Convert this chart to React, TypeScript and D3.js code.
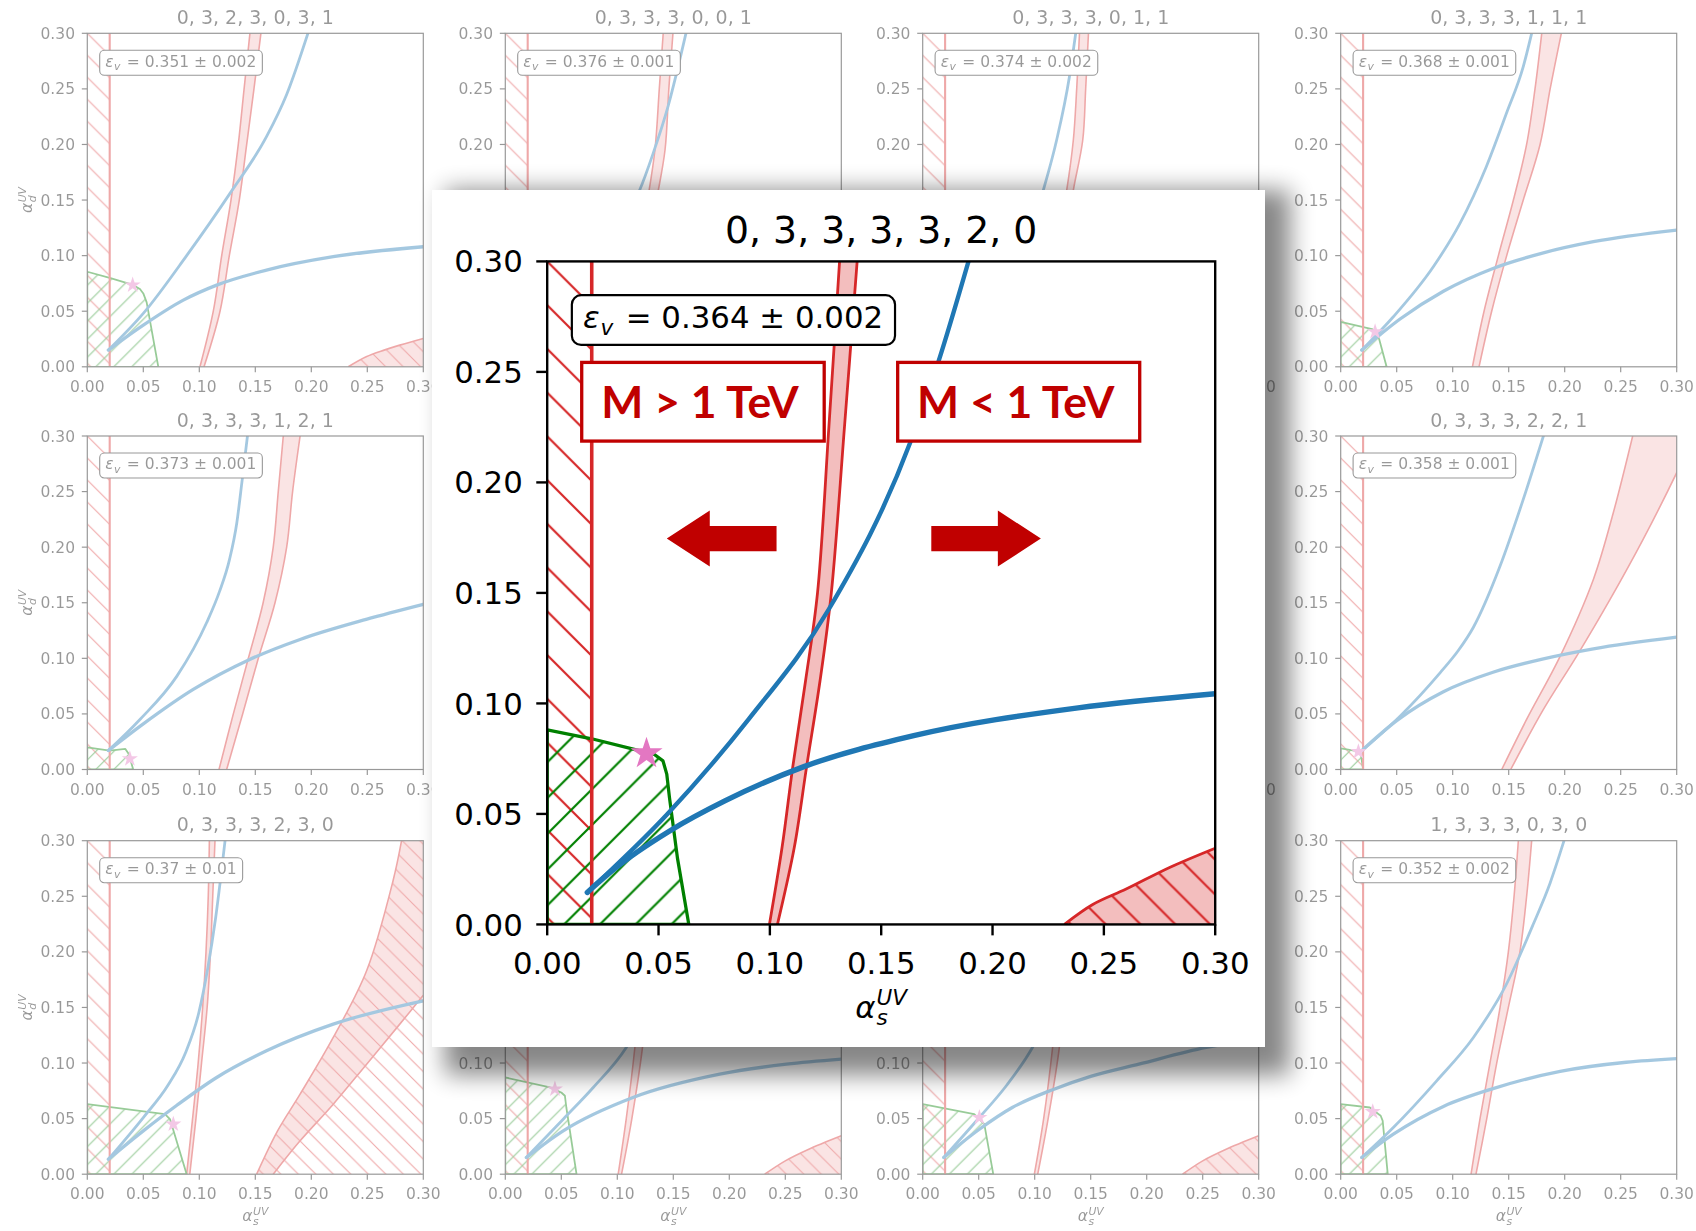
import React, { useEffect, useRef } from "react";
import * as d3 from "d3";

type Pt = [number, number];

// ---------------- data ----------------
const TICK_VALUES = [0, 0.05, 0.1, 0.15, 0.2, 0.25, 0.3];
const TICK_LABELS = ["0.00", "0.05", "0.10", "0.15", "0.20", "0.25", "0.30"];
const EXCLUDED_BAND: Pt = [0, 0.02];

const PANEL_TITLES = [
  "0, 3, 2, 3, 0, 3, 1", "0, 3, 3, 3, 0, 0, 1", "0, 3, 3, 3, 0, 1, 1", "0, 3, 3, 3, 1, 1, 1",
  "0, 3, 3, 3, 1, 2, 1", "", "", "0, 3, 3, 3, 2, 2, 1",
  "0, 3, 3, 3, 2, 3, 0", "", "", "1, 3, 3, 3, 0, 3, 0",
];
const PANEL_EPS = [
  "0.351 ± 0.002", "0.376 ± 0.001", "0.374 ± 0.002", "0.368 ± 0.001",
  "0.373 ± 0.001", "", "", "0.358 ± 0.001",
  "0.37 ± 0.01", "", "", "0.352 ± 0.002",
];

const STEEP_CURVES: (Pt[] | null)[] = [
  [[0.0188, 0.015], [0.05, 0.048], [0.0887, 0.1], [0.1274, 0.156], [0.16, 0.207], [0.178, 0.245], [0.197, 0.3]],
  [[0.0188, 0.015], [0.05, 0.05], [0.08, 0.09], [0.105, 0.13], [0.12, 0.159], [0.132, 0.192], [0.1455, 0.235], [0.1613, 0.3]],
  [[0.0188, 0.015], [0.05, 0.05], [0.08, 0.088], [0.095, 0.118], [0.1077, 0.159], [0.1196, 0.204], [0.131, 0.261], [0.1366, 0.3]],
  [[0.0188, 0.015], [0.047, 0.045], [0.0827, 0.09], [0.1065, 0.129], [0.13, 0.18], [0.148, 0.228], [0.163, 0.27], [0.1705, 0.3]],
  [[0.0188, 0.017], [0.047, 0.045], [0.08, 0.084], [0.1065, 0.132], [0.118, 0.16], [0.127, 0.189], [0.1335, 0.222], [0.138, 0.258], [0.143, 0.3]],
  null,
  null,
  [[0.0188, 0.017], [0.053, 0.048], [0.0887, 0.087], [0.105, 0.107], [0.1185, 0.128], [0.1423, 0.183], [0.163, 0.243], [0.181, 0.3]],
  [[0.0188, 0.0135], [0.05, 0.051], [0.072, 0.08], [0.088, 0.11], [0.0995, 0.145], [0.1075, 0.185], [0.1145, 0.23], [0.1195, 0.27], [0.123, 0.3]],
  [[0.0188, 0.015], [0.0517, 0.0495], [0.0785, 0.078], [0.108, 0.114], [0.13, 0.155], [0.15, 0.2], [0.165, 0.245], [0.177, 0.3]],
  [[0.0188, 0.015], [0.0506, 0.051], [0.075, 0.08], [0.098, 0.114], [0.12, 0.16], [0.14, 0.22], [0.155, 0.3]],
  [[0.0188, 0.015], [0.047, 0.042], [0.0857, 0.084], [0.1185, 0.123], [0.148, 0.171], [0.172, 0.225], [0.187, 0.262], [0.1994, 0.3]],
];

const FLAT_CURVES: (Pt[] | null)[] = [
  [[0.0188, 0.015], [0.05, 0.0375], [0.0857, 0.06], [0.1155, 0.0735], [0.16, 0.087], [0.2196, 0.099], [0.3, 0.108]],
  [[0.0188, 0.015], [0.05, 0.04], [0.1, 0.068], [0.15, 0.085], [0.2, 0.097], [0.3, 0.11]],
  [[0.0188, 0.015], [0.05, 0.042], [0.1, 0.07], [0.15, 0.087], [0.2, 0.099], [0.3, 0.112]],
  [[0.0188, 0.015], [0.053, 0.043], [0.0917, 0.068], [0.136, 0.0885], [0.181, 0.1025], [0.2256, 0.1125], [0.3, 0.123]],
  [[0.0188, 0.017], [0.05, 0.041], [0.0946, 0.072], [0.145, 0.099], [0.19, 0.117], [0.249, 0.135], [0.3, 0.1485]],
  null,
  null,
  [[0.0188, 0.017], [0.05, 0.044], [0.0917, 0.07], [0.136, 0.0875], [0.181, 0.0995], [0.2256, 0.1085], [0.3, 0.119]],
  [[0.0188, 0.0135], [0.05, 0.039], [0.08, 0.062], [0.1155, 0.087], [0.16, 0.111], [0.2196, 0.135], [0.3, 0.156]],
  [[0.0188, 0.015], [0.0517, 0.039], [0.114, 0.069], [0.1915, 0.09], [0.251, 0.099], [0.3, 0.1036]],
  [[0.0188, 0.015], [0.05, 0.04], [0.08, 0.06], [0.116, 0.076], [0.15, 0.088], [0.193, 0.099], [0.253, 0.114], [0.3, 0.122]],
  [[0.0188, 0.015], [0.047, 0.036], [0.0917, 0.061], [0.136, 0.077], [0.196, 0.0925], [0.255, 0.1007], [0.3, 0.104]],
];

const BAND_LEFT: (Pt[] | null)[] = [
  [[0.1006, 0], [0.1125, 0.05], [0.12, 0.1], [0.1283, 0.15], [0.1348, 0.2], [0.14, 0.25], [0.1452, 0.3]],
  [[0.098, 0], [0.11, 0.05], [0.118, 0.1], [0.127, 0.15], [0.1336, 0.195], [0.1375, 0.25], [0.141, 0.3]],
  [[0.1, 0], [0.11, 0.05], [0.118, 0.1], [0.1286, 0.159], [0.1345, 0.204], [0.1375, 0.25], [0.14, 0.3]],
  [[0.1176, 0], [0.128, 0.05], [0.1408, 0.1], [0.1542, 0.15], [0.166, 0.2], [0.1735, 0.25], [0.1795, 0.3]],
  [[0.1176, 0], [0.1304, 0.05], [0.1438, 0.1], [0.157, 0.15], [0.166, 0.2], [0.1705, 0.25], [0.175, 0.3]],
  null,
  null,
  [[0.1438, 0], [0.166, 0.045], [0.196, 0.102], [0.2256, 0.171], [0.2434, 0.231], [0.2607, 0.3]],
  [[0.0887, 0], [0.094, 0.05], [0.099, 0.1], [0.103, 0.15], [0.106, 0.2], [0.108, 0.25], [0.109, 0.3]],
  [[0.1008, 0], [0.108, 0.05], [0.1157, 0.114], [0.123, 0.2], [0.129, 0.3]],
  [[0.0997, 0], [0.108, 0.05], [0.116, 0.114], [0.124, 0.2], [0.13, 0.3]],
  [[0.1164, 0], [0.1244, 0.05], [0.1333, 0.1], [0.1423, 0.15], [0.1497, 0.2], [0.1548, 0.25], [0.1586, 0.3]],
];

const BAND_RIGHT: (Pt[] | null)[] = [
  [[0.1042, 0], [0.1185, 0.05], [0.1268, 0.1], [0.1357, 0.15], [0.1423, 0.2], [0.1488, 0.25], [0.155, 0.3]],
  [[0.102, 0], [0.116, 0.05], [0.126, 0.1], [0.135, 0.15], [0.1426, 0.195], [0.146, 0.25], [0.1497, 0.3]],
  [[0.104, 0], [0.116, 0.05], [0.125, 0.1], [0.1345, 0.159], [0.1429, 0.204], [0.1455, 0.25], [0.148, 0.3]],
  [[0.1235, 0], [0.1348, 0.05], [0.1482, 0.1], [0.163, 0.15], [0.178, 0.2], [0.187, 0.25], [0.197, 0.3]],
  [[0.1244, 0], [0.1387, 0.05], [0.1527, 0.1], [0.1676, 0.15], [0.178, 0.2], [0.1833, 0.25], [0.19, 0.3]],
  null,
  null,
  [[0.1518, 0], [0.181, 0.054], [0.2107, 0.102], [0.2405, 0.153], [0.27, 0.207], [0.3, 0.267], [0.315, 0.3]],
  [[0.0915, 0], [0.097, 0.05], [0.102, 0.1], [0.107, 0.15], [0.11, 0.2], [0.112, 0.25], [0.114, 0.3]],
  [[0.1038, 0], [0.113, 0.05], [0.1225, 0.114], [0.131, 0.2], [0.137, 0.3]],
  [[0.1027, 0], [0.112, 0.05], [0.122, 0.114], [0.13, 0.2], [0.137, 0.3]],
  [[0.1208, 0], [0.1304, 0.05], [0.1393, 0.1], [0.1497, 0.15], [0.16, 0.2], [0.166, 0.25], [0.1705, 0.3]],
];

const GREEN_REGIONS: (Pt[] | null)[] = [
  [[0, 0.0855], [0.02, 0.08], [0.04, 0.074], [0.047, 0.07], [0.05, 0.066], [0.053, 0.058], [0.0634, 0]],
  [[0, 0.085], [0.04, 0.076], [0.05, 0.07], [0.053, 0.06], [0.062, 0]],
  [[0, 0.065], [0.045, 0.056], [0.05, 0.05], [0.063, 0]],
  [[0, 0.0405], [0.028, 0.034], [0.033, 0.03], [0.041, 0]],
  [[0, 0.02], [0.02, 0.017], [0.034, 0.0185], [0.037, 0.014], [0.041, 0]],
  null,
  null,
  [[0, 0.019], [0.012, 0.017], [0.018, 0.014], [0.02, 0]],
  [[0, 0.063], [0.0693, 0.054], [0.0738, 0.0496], [0.0887, 0]],
  [[0, 0.087], [0.04, 0.078], [0.05, 0.0735], [0.0532, 0.0706], [0.0545, 0.06], [0.0636, 0]],
  [[0, 0.063], [0.046, 0.054], [0.055, 0.045], [0.063, 0]],
  [[0, 0.063], [0.026, 0.06], [0.0357, 0.0526], [0.0375, 0.048], [0.042, 0]],
];

const STARS: (Pt | null)[] = [
  [0.0405, 0.0735], [0.044, 0.075], [0.05, 0.052], [0.0307, 0.0315],
  [0.038, 0.0096], null, null, [0.0158, 0.016],
  [0.0768, 0.045], [0.0443, 0.0766], [0.0506, 0.051], [0.0286, 0.0562],
];

const RIGHT_OUTER: (Pt[] | null)[] = [
  [[0.233, 0], [0.249, 0.009], [0.265, 0.015], [0.279, 0.0195], [0.3, 0.0255]],
  null, null, null, null, null, null, null,
  [[0.1512, 0], [0.1699, 0.039], [0.19, 0.072], [0.2196, 0.123], [0.2494, 0.183], [0.273, 0.264], [0.2806, 0.3]],
  [[0.2316, 0], [0.25, 0.012], [0.27, 0.022], [0.3, 0.0345]],
  [[0.232, 0], [0.25, 0.012], [0.27, 0.022], [0.3, 0.0345]],
  null,
];
const RIGHT_INNER: (Pt[] | null)[] = [
  null, null, null, null, null, null, null, null,
  [[0.166, 0], [0.19, 0.03], [0.2196, 0.063], [0.2494, 0.099], [0.279, 0.135], [0.3, 0.161]],
  null, null, null,
];

// enlarged panel
const BIG_TITLE = "0, 3, 3, 3, 3, 2, 0";
const BIG_EPS = "0.364 ± 0.002";
const BIG_STEEP: Pt[] = [[0.018, 0.0145], [0.054, 0.05], [0.0906, 0.093], [0.1264, 0.1425], [0.1633, 0.2187], [0.1756, 0.2543], [0.1892, 0.3]];
const BIG_FLAT: Pt[] = [[0.018, 0.0145], [0.03, 0.025], [0.055, 0.0423], [0.08, 0.056], [0.1153, 0.0714], [0.1646, 0.0854], [0.2384, 0.098], [0.3, 0.1044]];
const BIG_BAND_LEFT: Pt[] = [[0.0998, 0], [0.1055, 0.035], [0.1103, 0.0714], [0.116, 0.11], [0.1214, 0.15], [0.1265, 0.225], [0.1313, 0.3]];
const BIG_BAND_RIGHT: Pt[] = [[0.1034, 0], [0.111, 0.035], [0.1165, 0.0714], [0.1225, 0.11], [0.1276, 0.15], [0.1335, 0.225], [0.1392, 0.3]];
const BIG_GREEN: Pt[] = [[0, 0.088], [0.02, 0.084], [0.04, 0.079], [0.048, 0.077], [0.052, 0.074], [0.0537, 0.068], [0.0549, 0.0575], [0.0585, 0.03], [0.0636, 0]];
const BIG_STAR: Pt = [0.0446, 0.0773];
const BIG_RIGHT_OUTER: Pt[] = [[0.2323, 0], [0.245, 0.009], [0.26, 0.016], [0.28, 0.026], [0.3, 0.0345]];

// annotations on the enlarged panel (in its data coordinates)
const ANNOT_LABELS = ["M > 1 TeV", "M < 1 TeV"];
const ANNOT_BOX_X: Pt[] = [[0.0155, 0.1244], [0.1574, 0.2661]];
const ANNOT_BOX_Y: Pt = [0.2187, 0.2543];
const ARROW_X: Pt[] = [[0.103, 0.0537], [0.1725, 0.2217]]; // [tail, tip]
const ARROW_Y = 0.1746;

// ---------------- layout / style ----------------
const COL_X = [87.3, 505.3, 922.7, 1340.7];
const ROW_Y = [33.3, 436, 840.7];
const AW = 336;
const AH = 333.5;
const BIG_X = 547.2;
const BIG_Y = 261.4;
const BIG_K = 668 / 336;
const RED = "#d62728";
const BLUE = "#1f77b4";
const GREEN = "#008000";
const PINK = "#e377c2";
const DARK_RED = "#c00000";
const FS = 15.5;

type Spec = {
  title: string; eps: string; steep: Pt[] | null; flat: Pt[] | null;
  bandL: Pt[] | null; bandR: Pt[] | null; green: Pt[] | null; star: Pt | null;
  outer: Pt[] | null; inner: Pt[] | null;
};

function makeHatch(defs: any, id: string, dir: "back" | "fwd", s: number, color: string, w: number) {
  const p = defs.append("pattern").attr("id", id).attr("patternUnits", "userSpaceOnUse")
    .attr("width", s).attr("height", s);
  const d = dir === "back"
    ? `M0,0L${s},${s}M${-s * 0.25},${s * 0.75}L${s * 0.25},${s * 1.25}M${s * 0.75},${-s * 0.25}L${s * 1.25},${s * 0.25}`
    : `M0,${s}L${s},0M${-s * 0.25},${s * 0.25}L${s * 0.25},${-s * 0.25}M${s * 0.75},${s * 1.25}L${s * 1.25},${s * 0.75}`;
  p.append("path").attr("d", d).attr("stroke", color).attr("stroke-width", w).attr("fill", "none");
}

function mathLabel(parent: any, base: string, sub: string, sup: string, fs: number) {
  const g = parent.append("g");
  const t1 = g.append("text").attr("font-style", "italic").attr("font-size", fs).text(base);
  const w1 = (t1.node() as SVGTextElement).getComputedTextLength();
  const ts = g.append("text").attr("x", w1 + 0.5).attr("y", fs * 0.24).attr("font-style", "italic")
    .attr("font-size", fs * 0.7).text(sub);
  const tu = g.append("text").attr("x", w1 + 0.5).attr("y", -fs * 0.42).attr("font-style", "italic")
    .attr("font-size", fs * 0.7).text(sup);
  const w = w1 + 0.5 + Math.max(
    (ts.node() as SVGTextElement).getComputedTextLength(),
    (tu.node() as SVGTextElement).getComputedTextLength()
  );
  g.selectAll("text").attr("transform", `translate(${-w / 2},0)`);
  return g;
}

function drawPanel(root: any, spec: Spec, tx: number, ty: number, k: number, faded: boolean,
  yLabel: boolean, xLabel: boolean, id: string) {
  const g = root.append("g").attr("transform", `translate(${tx},${ty}) scale(${k})`)
    .attr("opacity", faded ? 0.4 : 1);
  const lwBlue = faded ? 2.8 : 2.2;
  const lwFlat = faded ? 3.3 : 2.7;
  const lwRed = faded ? 1.6 : 1.4;
  const lwVert = faded ? 2.1 : 1.8;
  const lwGreen = faded ? 1.8 : 1.65;
  const x = d3.scaleLinear().domain([0, 0.3]).range([0, AW]);
  const y = d3.scaleLinear().domain([0, 0.3]).range([AH, 0]);
  const clipId = "clip-" + id;
  g.append("clipPath").attr("id", clipId).append("rect").attr("width", AW).attr("height", AH);
  const c = g.append("g").attr("clip-path", `url(#${clipId})`);
  const curve = d3.line<Pt>().x((d) => x(d[0])).y((d) => y(d[1])).curve(d3.curveCatmullRom.alpha(0.5));
  const mono = d3.line<Pt>().x((d) => x(d[0])).y((d) => y(d[1])).curve(d3.curveMonotoneX);
  const lin = d3.line<Pt>().x((d) => x(d[0])).y((d) => y(d[1]));

  // excluded band on the left
  c.append("rect").attr("x", x(EXCLUDED_BAND[0])).attr("y", 0)
    .attr("width", x(EXCLUDED_BAND[1]) - x(EXCLUDED_BAND[0])).attr("height", AH).attr("fill", "url(#hBand)");

  // lower-right region
  if (spec.outer) {
    const last = spec.outer[spec.outer.length - 1];
    const hatchD = curve(spec.outer) + `L${x(0.3)},${y(last[1])}L${x(0.3)},${y(0)}Z`;
    const fillD = spec.inner
      ? curve(spec.outer) + `L${x(0.3)},${y(last[1])}` + (curve([...spec.inner].reverse()) as string).replace(/^M/, "L") + "Z"
      : hatchD;
    c.append("path").attr("d", fillD).attr("fill", RED).attr("fill-opacity", 0.3);
    c.append("path").attr("d", hatchD).attr("fill", "url(#hWide)");
    c.append("path").attr("d", curve(spec.outer)).attr("fill", "none").attr("stroke", RED).attr("stroke-width", lwRed);
    if (spec.inner) {
      c.append("path").attr("d", curve(spec.inner)).attr("fill", "none").attr("stroke", RED).attr("stroke-width", lwRed);
    }
  }

  // narrow red band
  if (spec.bandL && spec.bandR) {
    const d = curve(spec.bandL) + (curve([...spec.bandR].reverse()) as string).replace(/^M/, "L") + "Z";
    c.append("path").attr("d", d).attr("fill", RED).attr("fill-opacity", 0.3);
    c.append("path").attr("d", curve(spec.bandL)).attr("fill", "none").attr("stroke", RED).attr("stroke-width", lwRed);
    c.append("path").attr("d", curve(spec.bandR)).attr("fill", "none").attr("stroke", RED).attr("stroke-width", lwRed);
  }

  // green allowed region
  if (spec.green) {
    c.append("path").attr("d", lin([[0, 0], ...spec.green]) + "Z").attr("fill", "url(#hGreen)")
      .attr("stroke", GREEN).attr("stroke-width", lwGreen).attr("stroke-linejoin", "round");
  }

  // red line at band edge
  c.append("line").attr("x1", x(EXCLUDED_BAND[1])).attr("x2", x(EXCLUDED_BAND[1]))
    .attr("y1", 0).attr("y2", AH).attr("stroke", RED).attr("stroke-width", lwVert);

  // blue curves
  if (spec.steep) {
    c.append("path").attr("d", mono(spec.steep)).attr("fill", "none").attr("stroke", BLUE)
      .attr("stroke-width", lwBlue).attr("stroke-linecap", "round");
  }
  if (spec.flat) {
    c.append("path").attr("d", mono(spec.flat)).attr("fill", "none").attr("stroke", BLUE)
      .attr("stroke-width", lwFlat).attr("stroke-linecap", "round");
  }

  // star
  if (spec.star) {
    g.append("path").attr("d", d3.symbol().type(d3.symbolStar).size(81)())
      .attr("transform", `translate(${x(spec.star[0])},${y(spec.star[1])})`).attr("fill", PINK);
  }

  // spines
  g.append("rect").attr("width", AW).attr("height", AH).attr("fill", "none")
    .attr("stroke", "#000").attr("stroke-width", 1.2);

  // ticks
  TICK_VALUES.forEach((v, i) => {
    g.append("line").attr("x1", x(v)).attr("x2", x(v)).attr("y1", AH).attr("y2", AH + 5.5)
      .attr("stroke", "#000").attr("stroke-width", 1.2);
    g.append("line").attr("x1", 0).attr("x2", -5.5).attr("y1", y(v)).attr("y2", y(v))
      .attr("stroke", "#000").attr("stroke-width", 1.2);
    g.append("text").attr("x", x(v)).attr("y", AH + 25).attr("text-anchor", "middle")
      .attr("font-size", FS).attr("fill", "#000").text(TICK_LABELS[i]);
    g.append("text").attr("x", -12.3).attr("y", y(v) + FS * 0.36).attr("text-anchor", "end")
      .attr("font-size", FS).attr("fill", "#000").text(TICK_LABELS[i]);
  });

  // title
  if (spec.title) {
    g.append("text").attr("x", AW / 2).attr("y", -9.5).attr("text-anchor", "middle")
      .attr("font-size", 19).attr("fill", "#000").text(spec.title);
  }

  // epsilon box
  if (spec.eps) {
    const bg = g.append("g");
    const t = bg.append("text").attr("x", 18).attr("y", 33.4).attr("font-size", FS).attr("fill", "#000");
    t.append("tspan").attr("font-style", "italic").text("ε");
    t.append("tspan").attr("font-style", "italic").attr("font-size", FS * 0.7).attr("dy", 3.5).attr("dx", 0.4).text("v");
    t.append("tspan").attr("dy", -3.5).attr("dx", 1.4).text(" = " + spec.eps);
    const bb = (t.node() as SVGTextElement).getBBox();
    bg.insert("rect", "text").attr("x", bb.x - 5.6).attr("y", 17).attr("width", bb.width + 11.6)
      .attr("height", 25).attr("rx", 4.65).attr("fill", "#fff").attr("stroke", "#000").attr("stroke-width", 1.1);
  }

  if (xLabel) {
    const lg = mathLabel(g, "α", "s", "UV", FS);
    lg.attr("transform", `translate(${AW / 2},${AH + 47})`);
  }
  if (yLabel) {
    const lg = mathLabel(g, "α", "d", "UV", FS);
    lg.attr("transform", `translate(-55,${AH / 2}) rotate(-90)`);
  }
}

export default function App() {
  const ref = useRef<SVGSVGElement>(null);
  useEffect(() => {
    const svg = d3.select(ref.current as SVGSVGElement);
    svg.selectAll("*").remove();
    const defs = svg.append("defs");
    makeHatch(defs, "hBand", "back", 22, RED, 1.1);
    makeHatch(defs, "hWide", "back", 17.5, RED, 1.1);
    makeHatch(defs, "hGreen", "fwd", 18, GREEN, 1.1);
    const filt = defs.append("filter").attr("id", "shadowBlur").attr("x", "-20%").attr("y", "-20%")
      .attr("width", "140%").attr("height", "140%");
    filt.append("feGaussianBlur").attr("stdDeviation", 12);

    svg.append("rect").attr("width", 1696).attr("height", 1231).attr("fill", "#fff");

    for (let i = 0; i < 12; i++) {
      const r = Math.floor(i / 4);
      const col = i % 4;
      const spec: Spec = {
        title: PANEL_TITLES[i], eps: PANEL_EPS[i], steep: STEEP_CURVES[i], flat: FLAT_CURVES[i],
        bandL: BAND_LEFT[i], bandR: BAND_RIGHT[i], green: GREEN_REGIONS[i], star: STARS[i],
        outer: RIGHT_OUTER[i], inner: RIGHT_INNER[i],
      };
      drawPanel(svg, spec, COL_X[col], ROW_Y[r], 1, true, col === 0, r === 2, "p" + i);
    }

    // shadow + white card
    svg.append("rect").attr("x", 445).attr("y", 190).attr("width", 845).attr("height", 885)
      .attr("fill", "#000").attr("opacity", 0.47).attr("filter", "url(#shadowBlur)");
    svg.append("rect").attr("x", 432).attr("y", 190).attr("width", 833).attr("height", 857).attr("fill", "#fff");

    const bigSpec: Spec = {
      title: BIG_TITLE, eps: BIG_EPS, steep: BIG_STEEP, flat: BIG_FLAT, bandL: BIG_BAND_LEFT,
      bandR: BIG_BAND_RIGHT, green: BIG_GREEN, star: BIG_STAR, outer: BIG_RIGHT_OUTER, inner: null,
    };
    drawPanel(svg, bigSpec, BIG_X, BIG_Y, BIG_K, false, false, true, "big");

    // annotations
    const bx = d3.scaleLinear().domain([0, 0.3]).range([BIG_X, BIG_X + AW * BIG_K]);
    const by = d3.scaleLinear().domain([0, 0.3]).range([BIG_Y + AH * BIG_K, BIG_Y]);
    const ann = svg.append("g");
    ANNOT_LABELS.forEach((lab, i) => {
      const x0 = bx(ANNOT_BOX_X[i][0]);
      const x1 = bx(ANNOT_BOX_X[i][1]);
      const y0 = by(ANNOT_BOX_Y[1]);
      const y1 = by(ANNOT_BOX_Y[0]);
      ann.append("rect").attr("x", x0).attr("y", y0).attr("width", x1 - x0).attr("height", y1 - y0)
        .attr("fill", "#fff").attr("stroke", DARK_RED).attr("stroke-width", 3.3);
      ann.append("text").attr("x", (x0 + x1) / 2 - 3).attr("y", (y0 + y1) / 2 + 15.8)
        .attr("text-anchor", "middle").attr("font-family", "Lato").attr("font-weight", 700)
        .attr("font-size", 44.5).attr("fill", DARK_RED).text(lab);
    });
    ARROW_X.forEach(([tail, tip]) => {
      const xt = bx(tail);
      const xp = bx(tip);
      const yc = by(ARROW_Y);
      const dir = Math.sign(xp - xt);
      const hb = xp - dir * 43;
      const hh = 28;
      const sh = 12.6;
      const pts: Pt[] = [[xp, yc], [hb, yc - hh], [hb, yc - sh], [xt, yc - sh], [xt, yc + sh], [hb, yc + sh], [hb, yc + hh]];
      ann.append("path").attr("d", d3.line()(pts) + "Z").attr("fill", DARK_RED);
    });
  }, []);
  return (
    <svg ref={ref} width={1696} height={1231} fontFamily="DejaVu Sans"
      style={{ position: "absolute", left: 0, top: 0, background: "#fff" }} />
  );
}
